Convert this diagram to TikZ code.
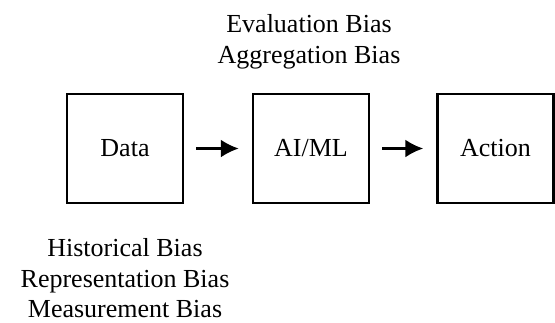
\documentclass[tikz,border=0pt]{standalone}
\usepackage{fontspec}
\setmainfont{Liberation Serif}
\usetikzlibrary{arrows.meta}

\begin{document}
\begin{tikzpicture}[x=0.5pt,y=-0.5pt,
  stage/.style={draw,line width=1.2pt,minimum width=58pt,minimum height=54.5pt,inner sep=0pt,font=\fontsize{13}{15.5}\selectfont},
  biaslabel/.style={align=center,inner sep=0pt,anchor=north,font=\fontsize{13}{15.3}\selectfont},
  flow/.style={line width=1.3pt,-{Latex[length=9pt,width=9pt]},shorten <=6pt,shorten >=6.5pt}]
\useasboundingbox (0,0) rectangle (555,322);
\node[stage] (data) at (125,148.5) {Data};
\node[stage] (aiml) at (311,148.5) {AI/ML};
\node[stage] (action) at (495.5,148.5) {Action};
\draw[flow] (data) -- (aiml);
\draw[flow] (aiml) -- (action);
\node[biaslabel] (modelbias) at (309,14.2) {Evaluation Bias\\Aggregation Bias};
\node[biaslabel] (databias) at (125,238) {Historical Bias\\Representation Bias\\Measurement Bias};
\end{tikzpicture}
\end{document}
